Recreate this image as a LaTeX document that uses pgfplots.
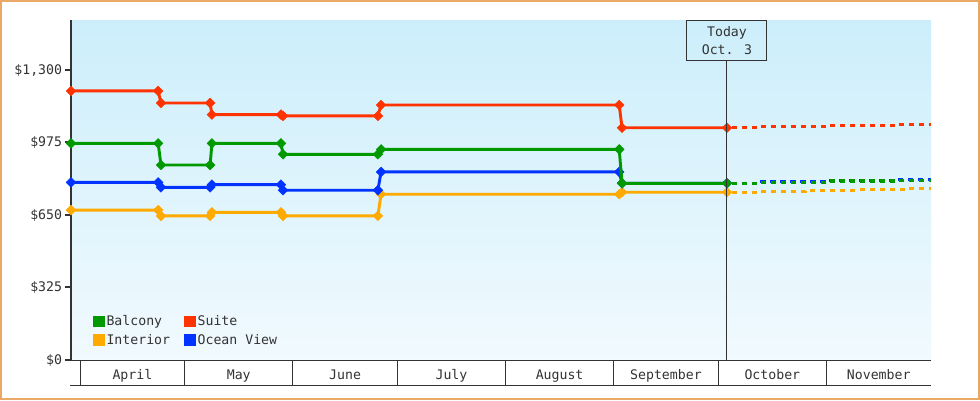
\documentclass[border=0pt]{standalone}
\usepackage{pgfplots}
\pgfplotsset{compat=1.18}
\usepackage{fontspec}
\newfontfamily\chartfont{DejaVu Sans Mono}
\definecolor{cRed}{HTML}{FF3300}
\definecolor{cGreen}{HTML}{009900}
\definecolor{cBlue}{HTML}{0033FF}
\definecolor{cOrange}{HTML}{FFAA00}
\definecolor{cDark}{HTML}{333333}
\definecolor{bgTop}{HTML}{CCEEFB}
\definecolor{bgBot}{HTML}{F1FAFE}
\definecolor{cBorder}{HTML}{E9A866}
\begin{document}
\begin{tikzpicture}[font=\chartfont\fontsize{9.9}{13.2}\selectfont]
\useasboundingbox (0,0) rectangle (735pt,300pt);
\fill[white] (0,0) rectangle (735pt,300pt);
\draw[cBorder, line width=1.2pt] (0.6pt,0.6pt) rectangle (734.4pt,299.4pt);
\begin{axis}[
  at={(53.25pt,30pt)}, anchor=south west,
  scale only axis, width=645pt, height=255pt,
  xmin=-2.6, xmax=244, ymin=0, ymax=1524,
  clip mode=individual,
  axis x line=bottom, axis y line=left,
  x axis line style={-, draw=cDark, line width=0.75pt},
  y axis line style={-, draw=cDark, line width=1.5pt},
  xtick={15,45.5,76,106.5,137.5,168,198.5,229},
  xticklabels={April,May,June,July,August,September,October,November},
  xtick style={draw=none},
  xticklabel style={anchor=base, yshift=-9.8pt, text=cDark},
  ytick={0,325,650,975,1300},
  yticklabels={\$0,\$325,\$650,\$975,{\$1,300}},
  ytick style={draw=cDark, line width=1.5pt},
  major tick length=4.5pt, tick align=outside,
  yticklabel style={text=cDark, inner sep=2pt},
  axis background/.style={shade, top color=bgTop, bottom color=bgBot},
  legend columns=2, legend cell align=left,
  legend style={at={(axis description cs:0,0)}, anchor=south west,
    xshift=16.5pt, yshift=10.5pt, draw=none, fill=none,
    inner sep=0pt, outer sep=0pt, row sep=5pt, column sep=1.5pt,
    /tikz/every even column/.append style={column sep=10.5pt},
    nodes={inner sep=0pt, text=cDark}},
  solid line/.style={line width=2.2pt, mark=square*, mark size=2.6pt,
    mark options={rotate=45, solid, line width=0.3pt}, forget plot},
  dash line/.style={line width=2.4pt, dash pattern=on 3.9pt off 3.6pt,
    dash phase=3.75pt, forget plot},
]
\addlegendimage{legend image code/.code={\fill[cGreen] (0pt,-4.1pt) rectangle (8.25pt,4.1pt);}}
\addlegendentry{Balcony}
\addlegendimage{legend image code/.code={\fill[cRed] (0pt,-4.1pt) rectangle (8.25pt,4.1pt);}}
\addlegendentry{Suite}
\addlegendimage{legend image code/.code={\fill[cOrange] (0pt,-4.1pt) rectangle (8.25pt,4.1pt);}}
\addlegendentry{Interior}
\addlegendimage{legend image code/.code={\fill[cBlue] (0pt,-4.1pt) rectangle (8.25pt,4.1pt);}}
\addlegendentry{Ocean View}

% Interior
\addplot[cOrange, solid line] coordinates {(-2.6,672) (22.4,672) (23.2,646) (37.3,646) (37.8,662) (57.6,662) (58.2,646) (85.4,646) (86.3,743) (154.6,743) (155.4,752) (185.5,752)};
\addplot[cOrange, dash line] coordinates {(185.5,752) (195,752) (195,756) (208,756) (208,760) (223,760) (223,763) (237,763) (237,767) (244,767)};
% Ocean View
\addplot[cBlue, solid line] coordinates {(-2.6,796) (22.4,796) (23.2,774) (37.3,774) (37.8,786) (57.6,786) (58.2,761) (85.4,761) (86.3,843) (154.6,843) (155.4,792) (185.5,792)};
\addplot[cBlue, dash line] coordinates {(185.5,792) (195,792) (195,799) (214.4,799) (214.4,805) (234.5,805) (234.5,810) (244,810)};
% Balcony
\addplot[cGreen, solid line] coordinates {(-2.6,971) (22.4,971) (23.2,874) (37.3,874) (37.8,971) (57.6,971) (58.2,922) (85.4,922) (86.3,944) (154.6,944) (155.4,792) (185.5,792)};
\addplot[cGreen, dash line] coordinates {(185.5,792) (195,792) (195,796) (214.4,796) (214.4,802) (234.5,802) (234.5,806) (244,806)};
% Suite
\addplot[cRed, solid line] coordinates {(-2.6,1206) (22.4,1206) (23.2,1152) (37.3,1152) (37.8,1100) (57.6,1100) (58.2,1094) (85.4,1094) (86.3,1143) (154.6,1143) (155.4,1041) (185.5,1041)};
\addplot[cRed, dash line] coordinates {(185.5,1041) (195,1041) (195,1046) (214.4,1046) (214.4,1050) (234.5,1050) (234.5,1055) (244,1055)};

% month separators
\pgfplotsinvokeforeach{0,30,61,91,122,153,183,214}{
  \draw[cDark, line width=0.75pt] (axis cs:#1,0) -- ([yshift=-18.75pt]axis cs:#1,0);
}
\draw[cDark, line width=0.75pt] ([xshift=-0.75pt,yshift=-18.75pt]rel axis cs:0,0) -- ([yshift=-18.75pt]rel axis cs:1,0);

% today marker
\node[draw=cDark, line width=0.75pt, minimum width=60pt, minimum height=30pt,
  align=center, anchor=north, inner sep=0pt, text=cDark] (today) at (axis cs:185.5,1524) {Today\\Oct. 3};
\draw[cDark, line width=0.75pt] (axis cs:185.5,0) -- (today.south);
\end{axis}
\end{tikzpicture}
\end{document}
